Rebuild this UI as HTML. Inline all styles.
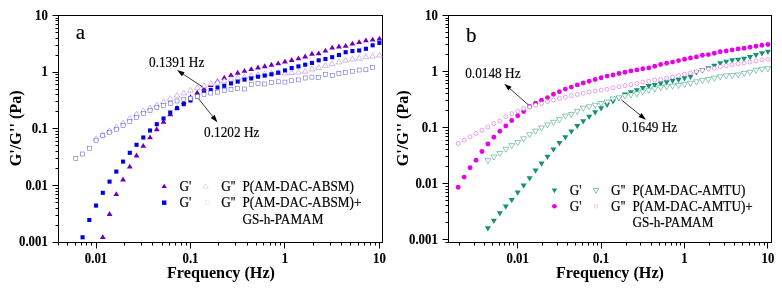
<!DOCTYPE html>
<html><head><meta charset="utf-8"><style>
html,body{margin:0;padding:0;background:#fff;}
body{width:782px;height:289px;overflow:hidden;}
svg{display:block;will-change:transform;}
text{font-family:"Liberation Serif", serif;fill:#000;}
.tk{font-size:12.8px;font-weight:bold;stroke:#000;stroke-width:0.12px;}
.ax{font-size:16.2px;font-weight:bold;}
.lg{font-size:13.2px;stroke:#000;stroke-width:0.18px;}
.an{font-size:13.3px;stroke:#000;stroke-width:0.15px;}
.pl{font-size:21px;stroke:#000;stroke-width:0.15px;}
</style></head><body>
<svg width="782" height="289" viewBox="0 0 782 289">
<rect width="782" height="289" fill="#fff"/>

<rect x="58.50" y="15.50" width="324.00" height="227.00" fill="none" stroke="#000" stroke-width="1.0"/>
<path d="M52.50 242.50H58.50M55.50 225.50H58.50M55.50 215.50H58.50M55.50 208.50H58.50M55.50 202.50H58.50M55.50 198.50H58.50M55.50 194.50H58.50M55.50 191.50H58.50M55.50 188.50H58.50M52.50 185.50H58.50M55.50 168.50H58.50M55.50 158.50H58.50M55.50 151.50H58.50M55.50 145.50H58.50M55.50 141.50H58.50M55.50 137.50H58.50M55.50 134.50H58.50M55.50 131.50H58.50M52.50 128.50H58.50M55.50 111.50H58.50M55.50 101.50H58.50M55.50 94.50H58.50M55.50 89.50H58.50M55.50 84.50H58.50M55.50 80.50H58.50M55.50 77.50H58.50M55.50 74.50H58.50M52.50 72.50H58.50M55.50 55.50H58.50M55.50 45.50H58.50M55.50 38.50H58.50M55.50 32.50H58.50M55.50 28.50H58.50M55.50 24.50H58.50M55.50 20.50H58.50M55.50 18.50H58.50M52.50 15.50H58.50M58.50 242.50V245.50M67.50 242.50V245.50M75.50 242.50V245.50M81.50 242.50V245.50M86.50 242.50V245.50M91.50 242.50V245.50M96.50 242.50V248.50M124.50 242.50V245.50M141.50 242.50V245.50M152.50 242.50V245.50M162.50 242.50V245.50M169.50 242.50V245.50M175.50 242.50V245.50M181.50 242.50V245.50M186.50 242.50V245.50M190.50 242.50V248.50M218.50 242.50V245.50M235.50 242.50V245.50M247.50 242.50V245.50M256.50 242.50V245.50M263.50 242.50V245.50M270.50 242.50V245.50M275.50 242.50V245.50M280.50 242.50V245.50M284.50 242.50V248.50M313.50 242.50V245.50M330.50 242.50V245.50M341.50 242.50V245.50M350.50 242.50V245.50M358.50 242.50V245.50M364.50 242.50V245.50M370.50 242.50V245.50M375.50 242.50V245.50M379.50 242.50V248.50" stroke="#000" stroke-width="1" fill="none"/>
<text transform="translate(47.80,19.60) scale(1,1.09)" text-anchor="end" class="tk">10</text>
<text transform="translate(47.80,76.27) scale(1,1.09)" text-anchor="end" class="tk">1</text>
<text transform="translate(47.80,132.95) scale(1,1.09)" text-anchor="end" class="tk">0.1</text>
<text transform="translate(47.80,189.62) scale(1,1.09)" text-anchor="end" class="tk">0.01</text>
<text transform="translate(47.80,246.30) scale(1,1.09)" text-anchor="end" class="tk">0.001</text>
<text transform="translate(96.05,262.6) scale(1,1.09)" text-anchor="middle" class="tk">0.01</text>
<text transform="translate(190.50,262.6) scale(1,1.09)" text-anchor="middle" class="tk">0.1</text>
<text transform="translate(284.95,262.6) scale(1,1.09)" text-anchor="middle" class="tk">1</text>
<text transform="translate(379.40,262.6) scale(1,1.09)" text-anchor="middle" class="tk">10</text>
<text x="221.00" y="277.6" text-anchor="middle" class="ax">Frequency (Hz)</text>
<text transform="translate(20.70,128.3) rotate(-90)" text-anchor="middle" class="ax">G'/G'' (Pa)</text>
<g>
<polygon points="102.81,234.24 105.76,239.08 99.86,239.08" fill="#7000b4"/>
<polygon points="109.56,211.04 112.51,215.88 106.61,215.88" fill="#7000b4"/>
<polygon points="116.31,191.24 119.26,196.08 113.36,196.08" fill="#7000b4"/>
<polygon points="123.05,176.54 126.00,181.38 120.10,181.38" fill="#7000b4"/>
<polygon points="129.80,163.74 132.75,168.58 126.85,168.58" fill="#7000b4"/>
<polygon points="136.54,152.54 139.49,157.38 133.59,157.38" fill="#7000b4"/>
<polygon points="143.29,142.94 146.24,147.78 140.34,147.78" fill="#7000b4"/>
<polygon points="150.04,134.44 152.99,139.28 147.09,139.28" fill="#7000b4"/>
<polygon points="156.78,126.34 159.73,131.18 153.83,131.18" fill="#7000b4"/>
<polygon points="163.53,118.94 166.48,123.78 160.58,123.78" fill="#7000b4"/>
<polygon points="170.27,111.34 173.22,116.18 167.32,116.18" fill="#7000b4"/>
<polygon points="177.02,104.94 179.97,109.78 174.07,109.78" fill="#7000b4"/>
<polygon points="183.77,99.34 186.72,104.18 180.82,104.18" fill="#7000b4"/>
<polygon points="190.51,94.34 193.46,99.18 187.56,99.18" fill="#7000b4"/>
<polygon points="197.26,89.64 200.21,94.48 194.31,94.48" fill="#7000b4"/>
<polygon points="204.00,85.74 206.95,90.58 201.05,90.58" fill="#7000b4"/>
<polygon points="210.75,82.14 213.70,86.98 207.80,86.98" fill="#7000b4"/>
<polygon points="217.50,78.24 220.45,83.08 214.55,83.08" fill="#7000b4"/>
<polygon points="224.24,74.84 227.19,79.68 221.29,79.68" fill="#7000b4"/>
<polygon points="230.99,72.14 233.94,76.98 228.04,76.98" fill="#7000b4"/>
<polygon points="237.73,69.84 240.68,74.68 234.78,74.68" fill="#7000b4"/>
<polygon points="244.48,67.94 247.43,72.78 241.53,72.78" fill="#7000b4"/>
<polygon points="251.23,66.14 254.18,70.98 248.28,70.98" fill="#7000b4"/>
<polygon points="257.97,64.54 260.92,69.38 255.02,69.38" fill="#7000b4"/>
<polygon points="264.72,63.34 267.67,68.18 261.77,68.18" fill="#7000b4"/>
<polygon points="271.46,61.84 274.41,66.68 268.51,66.68" fill="#7000b4"/>
<polygon points="278.21,60.44 281.16,65.28 275.26,65.28" fill="#7000b4"/>
<polygon points="284.96,58.54 287.91,63.38 282.01,63.38" fill="#7000b4"/>
<polygon points="291.70,57.04 294.65,61.88 288.75,61.88" fill="#7000b4"/>
<polygon points="298.45,55.44 301.40,60.28 295.50,60.28" fill="#7000b4"/>
<polygon points="305.19,53.54 308.14,58.38 302.24,58.38" fill="#7000b4"/>
<polygon points="311.94,50.84 314.89,55.68 308.99,55.68" fill="#7000b4"/>
<polygon points="318.69,50.44 321.64,55.28 315.74,55.28" fill="#7000b4"/>
<polygon points="325.43,47.74 328.38,52.58 322.48,52.58" fill="#7000b4"/>
<polygon points="332.18,44.74 335.13,49.58 329.23,49.58" fill="#7000b4"/>
<polygon points="338.92,43.54 341.87,48.38 335.97,48.38" fill="#7000b4"/>
<polygon points="345.67,42.94 348.62,47.78 342.72,47.78" fill="#7000b4"/>
<polygon points="352.42,40.74 355.37,45.58 349.47,45.58" fill="#7000b4"/>
<polygon points="359.16,39.24 362.11,44.08 356.21,44.08" fill="#7000b4"/>
<polygon points="365.91,37.44 368.86,42.28 362.96,42.28" fill="#7000b4"/>
<polygon points="372.65,36.64 375.60,41.48 369.70,41.48" fill="#7000b4"/>
<polygon points="379.40,35.64 382.35,40.48 376.45,40.48" fill="#7000b4"/>
<polygon points="96.07,135.84 99.02,140.68 93.12,140.68" fill="#fff" stroke="#b48ce6" stroke-width="0.6"/>
<polygon points="102.81,131.84 105.76,136.68 99.86,136.68" fill="#fff" stroke="#b48ce6" stroke-width="0.6"/>
<polygon points="109.56,127.84 112.51,132.68 106.61,132.68" fill="#fff" stroke="#b48ce6" stroke-width="0.6"/>
<polygon points="116.31,124.34 119.26,129.18 113.36,129.18" fill="#fff" stroke="#b48ce6" stroke-width="0.6"/>
<polygon points="123.05,120.04 126.00,124.88 120.10,124.88" fill="#fff" stroke="#b48ce6" stroke-width="0.6"/>
<polygon points="129.80,115.44 132.75,120.28 126.85,120.28" fill="#fff" stroke="#b48ce6" stroke-width="0.6"/>
<polygon points="136.54,111.44 139.49,116.28 133.59,116.28" fill="#fff" stroke="#b48ce6" stroke-width="0.6"/>
<polygon points="143.29,107.84 146.24,112.68 140.34,112.68" fill="#fff" stroke="#b48ce6" stroke-width="0.6"/>
<polygon points="150.04,105.04 152.99,109.88 147.09,109.88" fill="#fff" stroke="#b48ce6" stroke-width="0.6"/>
<polygon points="156.78,102.14 159.73,106.98 153.83,106.98" fill="#fff" stroke="#b48ce6" stroke-width="0.6"/>
<polygon points="163.53,98.64 166.48,103.48 160.58,103.48" fill="#fff" stroke="#b48ce6" stroke-width="0.6"/>
<polygon points="170.27,95.64 173.22,100.48 167.32,100.48" fill="#fff" stroke="#b48ce6" stroke-width="0.6"/>
<polygon points="177.02,92.44 179.97,97.28 174.07,97.28" fill="#fff" stroke="#b48ce6" stroke-width="0.6"/>
<polygon points="183.77,90.14 186.72,94.98 180.82,94.98" fill="#fff" stroke="#b48ce6" stroke-width="0.6"/>
<polygon points="190.51,87.34 193.46,92.18 187.56,92.18" fill="#fff" stroke="#b48ce6" stroke-width="0.6"/>
<polygon points="197.26,84.74 200.21,89.58 194.31,89.58" fill="#fff" stroke="#b48ce6" stroke-width="0.6"/>
<polygon points="204.00,82.94 206.95,87.78 201.05,87.78" fill="#fff" stroke="#b48ce6" stroke-width="0.6"/>
<polygon points="210.75,80.64 213.70,85.48 207.80,85.48" fill="#fff" stroke="#b48ce6" stroke-width="0.6"/>
<polygon points="217.50,79.24 220.45,84.08 214.55,84.08" fill="#fff" stroke="#b48ce6" stroke-width="0.6"/>
<polygon points="224.24,78.04 227.19,82.88 221.29,82.88" fill="#fff" stroke="#b48ce6" stroke-width="0.6"/>
<polygon points="230.99,76.34 233.94,81.18 228.04,81.18" fill="#fff" stroke="#b48ce6" stroke-width="0.6"/>
<polygon points="237.73,75.14 240.68,79.98 234.78,79.98" fill="#fff" stroke="#b48ce6" stroke-width="0.6"/>
<polygon points="244.48,73.94 247.43,78.78 241.53,78.78" fill="#fff" stroke="#b48ce6" stroke-width="0.6"/>
<polygon points="251.23,72.84 254.18,77.68 248.28,77.68" fill="#fff" stroke="#b48ce6" stroke-width="0.6"/>
<polygon points="257.97,71.84 260.92,76.68 255.02,76.68" fill="#fff" stroke="#b48ce6" stroke-width="0.6"/>
<polygon points="264.72,70.94 267.67,75.78 261.77,75.78" fill="#fff" stroke="#b48ce6" stroke-width="0.6"/>
<polygon points="271.46,70.14 274.41,74.98 268.51,74.98" fill="#fff" stroke="#b48ce6" stroke-width="0.6"/>
<polygon points="278.21,69.54 281.16,74.38 275.26,74.38" fill="#fff" stroke="#b48ce6" stroke-width="0.6"/>
<polygon points="284.96,70.14 287.91,74.98 282.01,74.98" fill="#fff" stroke="#b48ce6" stroke-width="0.6"/>
<polygon points="291.70,69.64 294.65,74.48 288.75,74.48" fill="#fff" stroke="#b48ce6" stroke-width="0.6"/>
<polygon points="298.45,69.14 301.40,73.98 295.50,73.98" fill="#fff" stroke="#b48ce6" stroke-width="0.6"/>
<polygon points="305.19,68.24 308.14,73.08 302.24,73.08" fill="#fff" stroke="#b48ce6" stroke-width="0.6"/>
<polygon points="311.94,66.14 314.89,70.98 308.99,70.98" fill="#fff" stroke="#b48ce6" stroke-width="0.6"/>
<polygon points="318.69,64.74 321.64,69.58 315.74,69.58" fill="#fff" stroke="#b48ce6" stroke-width="0.6"/>
<polygon points="325.43,62.44 328.38,67.28 322.48,67.28" fill="#fff" stroke="#b48ce6" stroke-width="0.6"/>
<polygon points="332.18,60.84 335.13,65.68 329.23,65.68" fill="#fff" stroke="#b48ce6" stroke-width="0.6"/>
<polygon points="338.92,59.14 341.87,63.98 335.97,63.98" fill="#fff" stroke="#b48ce6" stroke-width="0.6"/>
<polygon points="345.67,57.34 348.62,62.18 342.72,62.18" fill="#fff" stroke="#b48ce6" stroke-width="0.6"/>
<polygon points="352.42,56.14 355.37,60.98 349.47,60.98" fill="#fff" stroke="#b48ce6" stroke-width="0.6"/>
<polygon points="359.16,55.34 362.11,60.18 356.21,60.18" fill="#fff" stroke="#b48ce6" stroke-width="0.6"/>
<polygon points="365.91,53.84 368.86,58.68 362.96,58.68" fill="#fff" stroke="#b48ce6" stroke-width="0.6"/>
<polygon points="372.65,53.24 375.60,58.08 369.70,58.08" fill="#fff" stroke="#b48ce6" stroke-width="0.6"/>
<polygon points="379.40,52.24 382.35,57.08 376.45,57.08" fill="#fff" stroke="#b48ce6" stroke-width="0.6"/>
<rect x="80.53" y="235.25" width="4.10" height="4.10" fill="#0000e6"/>
<rect x="87.27" y="217.95" width="4.10" height="4.10" fill="#0000e6"/>
<rect x="94.02" y="203.55" width="4.10" height="4.10" fill="#0000e6"/>
<rect x="100.76" y="190.75" width="4.10" height="4.10" fill="#0000e6"/>
<rect x="107.51" y="179.55" width="4.10" height="4.10" fill="#0000e6"/>
<rect x="114.26" y="169.55" width="4.10" height="4.10" fill="#0000e6"/>
<rect x="121.00" y="159.55" width="4.10" height="4.10" fill="#0000e6"/>
<rect x="127.75" y="150.75" width="4.10" height="4.10" fill="#0000e6"/>
<rect x="134.49" y="142.75" width="4.10" height="4.10" fill="#0000e6"/>
<rect x="141.24" y="135.45" width="4.10" height="4.10" fill="#0000e6"/>
<rect x="147.99" y="128.45" width="4.10" height="4.10" fill="#0000e6"/>
<rect x="154.73" y="122.15" width="4.10" height="4.10" fill="#0000e6"/>
<rect x="161.48" y="116.45" width="4.10" height="4.10" fill="#0000e6"/>
<rect x="168.22" y="110.45" width="4.10" height="4.10" fill="#0000e6"/>
<rect x="174.97" y="106.15" width="4.10" height="4.10" fill="#0000e6"/>
<rect x="181.72" y="102.15" width="4.10" height="4.10" fill="#0000e6"/>
<rect x="188.46" y="98.45" width="4.10" height="4.10" fill="#0000e6"/>
<rect x="195.21" y="94.45" width="4.10" height="4.10" fill="#0000e6"/>
<rect x="201.95" y="90.45" width="4.10" height="4.10" fill="#0000e6"/>
<rect x="208.70" y="87.85" width="4.10" height="4.10" fill="#0000e6"/>
<rect x="215.45" y="85.45" width="4.10" height="4.10" fill="#0000e6"/>
<rect x="222.19" y="83.75" width="4.10" height="4.10" fill="#0000e6"/>
<rect x="228.94" y="81.35" width="4.10" height="4.10" fill="#0000e6"/>
<rect x="235.68" y="79.55" width="4.10" height="4.10" fill="#0000e6"/>
<rect x="242.43" y="77.55" width="4.10" height="4.10" fill="#0000e6"/>
<rect x="249.18" y="76.35" width="4.10" height="4.10" fill="#0000e6"/>
<rect x="255.92" y="74.65" width="4.10" height="4.10" fill="#0000e6"/>
<rect x="262.67" y="73.55" width="4.10" height="4.10" fill="#0000e6"/>
<rect x="269.41" y="72.25" width="4.10" height="4.10" fill="#0000e6"/>
<rect x="276.16" y="70.65" width="4.10" height="4.10" fill="#0000e6"/>
<rect x="282.91" y="68.35" width="4.10" height="4.10" fill="#0000e6"/>
<rect x="289.65" y="65.95" width="4.10" height="4.10" fill="#0000e6"/>
<rect x="296.40" y="64.35" width="4.10" height="4.10" fill="#0000e6"/>
<rect x="303.14" y="62.65" width="4.10" height="4.10" fill="#0000e6"/>
<rect x="309.89" y="60.85" width="4.10" height="4.10" fill="#0000e6"/>
<rect x="316.64" y="58.25" width="4.10" height="4.10" fill="#0000e6"/>
<rect x="323.38" y="56.95" width="4.10" height="4.10" fill="#0000e6"/>
<rect x="330.13" y="55.15" width="4.10" height="4.10" fill="#0000e6"/>
<rect x="336.87" y="52.95" width="4.10" height="4.10" fill="#0000e6"/>
<rect x="343.62" y="50.15" width="4.10" height="4.10" fill="#0000e6"/>
<rect x="350.37" y="49.05" width="4.10" height="4.10" fill="#0000e6"/>
<rect x="357.11" y="48.45" width="4.10" height="4.10" fill="#0000e6"/>
<rect x="363.86" y="46.75" width="4.10" height="4.10" fill="#0000e6"/>
<rect x="370.60" y="43.25" width="4.10" height="4.10" fill="#0000e6"/>
<rect x="377.35" y="40.85" width="4.10" height="4.10" fill="#0000e6"/>
<rect x="73.83" y="156.40" width="4.00" height="4.00" fill="#fff" stroke="#5050d0" stroke-width="0.5"/>
<rect x="80.58" y="152.00" width="4.00" height="4.00" fill="#fff" stroke="#5050d0" stroke-width="0.5"/>
<rect x="87.32" y="146.20" width="4.00" height="4.00" fill="#fff" stroke="#5050d0" stroke-width="0.5"/>
<rect x="94.07" y="138.20" width="4.00" height="4.00" fill="#fff" stroke="#5050d0" stroke-width="0.5"/>
<rect x="100.81" y="133.50" width="4.00" height="4.00" fill="#fff" stroke="#5050d0" stroke-width="0.5"/>
<rect x="107.56" y="130.30" width="4.00" height="4.00" fill="#fff" stroke="#5050d0" stroke-width="0.5"/>
<rect x="114.31" y="127.50" width="4.00" height="4.00" fill="#fff" stroke="#5050d0" stroke-width="0.5"/>
<rect x="121.05" y="123.40" width="4.00" height="4.00" fill="#fff" stroke="#5050d0" stroke-width="0.5"/>
<rect x="127.80" y="119.50" width="4.00" height="4.00" fill="#fff" stroke="#5050d0" stroke-width="0.5"/>
<rect x="134.54" y="115.30" width="4.00" height="4.00" fill="#fff" stroke="#5050d0" stroke-width="0.5"/>
<rect x="141.29" y="111.70" width="4.00" height="4.00" fill="#fff" stroke="#5050d0" stroke-width="0.5"/>
<rect x="148.04" y="108.30" width="4.00" height="4.00" fill="#fff" stroke="#5050d0" stroke-width="0.5"/>
<rect x="154.78" y="105.30" width="4.00" height="4.00" fill="#fff" stroke="#5050d0" stroke-width="0.5"/>
<rect x="161.53" y="103.30" width="4.00" height="4.00" fill="#fff" stroke="#5050d0" stroke-width="0.5"/>
<rect x="168.27" y="101.30" width="4.00" height="4.00" fill="#fff" stroke="#5050d0" stroke-width="0.5"/>
<rect x="175.02" y="99.00" width="4.00" height="4.00" fill="#fff" stroke="#5050d0" stroke-width="0.5"/>
<rect x="181.77" y="97.20" width="4.00" height="4.00" fill="#fff" stroke="#5050d0" stroke-width="0.5"/>
<rect x="188.51" y="96.30" width="4.00" height="4.00" fill="#fff" stroke="#5050d0" stroke-width="0.5"/>
<rect x="195.26" y="94.50" width="4.00" height="4.00" fill="#fff" stroke="#5050d0" stroke-width="0.5"/>
<rect x="202.00" y="92.70" width="4.00" height="4.00" fill="#fff" stroke="#5050d0" stroke-width="0.5"/>
<rect x="208.75" y="91.00" width="4.00" height="4.00" fill="#fff" stroke="#5050d0" stroke-width="0.5"/>
<rect x="215.50" y="90.10" width="4.00" height="4.00" fill="#fff" stroke="#5050d0" stroke-width="0.5"/>
<rect x="222.24" y="88.40" width="4.00" height="4.00" fill="#fff" stroke="#5050d0" stroke-width="0.5"/>
<rect x="228.99" y="87.40" width="4.00" height="4.00" fill="#fff" stroke="#5050d0" stroke-width="0.5"/>
<rect x="235.73" y="86.50" width="4.00" height="4.00" fill="#fff" stroke="#5050d0" stroke-width="0.5"/>
<rect x="242.48" y="87.00" width="4.00" height="4.00" fill="#fff" stroke="#5050d0" stroke-width="0.5"/>
<rect x="249.23" y="82.20" width="4.00" height="4.00" fill="#fff" stroke="#5050d0" stroke-width="0.5"/>
<rect x="255.97" y="81.50" width="4.00" height="4.00" fill="#fff" stroke="#5050d0" stroke-width="0.5"/>
<rect x="262.72" y="82.00" width="4.00" height="4.00" fill="#fff" stroke="#5050d0" stroke-width="0.5"/>
<rect x="269.46" y="80.70" width="4.00" height="4.00" fill="#fff" stroke="#5050d0" stroke-width="0.5"/>
<rect x="276.21" y="79.80" width="4.00" height="4.00" fill="#fff" stroke="#5050d0" stroke-width="0.5"/>
<rect x="282.96" y="80.10" width="4.00" height="4.00" fill="#fff" stroke="#5050d0" stroke-width="0.5"/>
<rect x="289.70" y="78.80" width="4.00" height="4.00" fill="#fff" stroke="#5050d0" stroke-width="0.5"/>
<rect x="296.45" y="77.90" width="4.00" height="4.00" fill="#fff" stroke="#5050d0" stroke-width="0.5"/>
<rect x="303.19" y="76.00" width="4.00" height="4.00" fill="#fff" stroke="#5050d0" stroke-width="0.5"/>
<rect x="309.94" y="75.10" width="4.00" height="4.00" fill="#fff" stroke="#5050d0" stroke-width="0.5"/>
<rect x="316.69" y="75.30" width="4.00" height="4.00" fill="#fff" stroke="#5050d0" stroke-width="0.5"/>
<rect x="323.43" y="72.70" width="4.00" height="4.00" fill="#fff" stroke="#5050d0" stroke-width="0.5"/>
<rect x="330.18" y="73.70" width="4.00" height="4.00" fill="#fff" stroke="#5050d0" stroke-width="0.5"/>
<rect x="336.92" y="71.30" width="4.00" height="4.00" fill="#fff" stroke="#5050d0" stroke-width="0.5"/>
<rect x="343.67" y="70.40" width="4.00" height="4.00" fill="#fff" stroke="#5050d0" stroke-width="0.5"/>
<rect x="350.42" y="69.20" width="4.00" height="4.00" fill="#fff" stroke="#5050d0" stroke-width="0.5"/>
<rect x="357.16" y="68.00" width="4.00" height="4.00" fill="#fff" stroke="#5050d0" stroke-width="0.5"/>
<rect x="363.91" y="67.80" width="4.00" height="4.00" fill="#fff" stroke="#5050d0" stroke-width="0.5"/>
<rect x="370.65" y="65.60" width="4.00" height="4.00" fill="#fff" stroke="#5050d0" stroke-width="0.5"/>
</g>
<text transform="translate(149.00,67.40) scale(1,1.08)" class="an">0.1391 Hz</text>
<line x1="202.70" y1="87.00" x2="182.43" y2="73.67" stroke="#222" stroke-width="0.9"/><polygon points="177.00,70.10 184.64,72.13 181.89,76.31" fill="#000"/>
<text transform="translate(204.10,137.40) scale(1,1.08)" class="an">0.1202 Hz</text>
<line x1="198.70" y1="98.90" x2="213.34" y2="117.22" stroke="#222" stroke-width="0.9"/><polygon points="217.40,122.30 210.76,118.00 214.67,114.88" fill="#000"/>
<text transform="translate(75.80,38.90) scale(1,1.0)" class="pl">a</text>
<polygon points="164.20,183.66 166.90,188.09 161.50,188.09" fill="#7000b4"/>
<text transform="translate(179.40,190.60) scale(1,1.09)" class="lg">G'</text>
<polygon points="205.60,183.95 208.20,188.22 203.00,188.22" fill="none" stroke="#c8b4ec" stroke-width="0.5"/>
<text transform="translate(221.20,190.60) scale(1,1.09)" class="lg">G''</text>
<text transform="translate(242.50,190.60) scale(1,1.09)" class="lg">P(AM-DAC-ABSM)</text>
<rect x="162.00" y="200.50" width="4.40" height="4.40" fill="#0000e6"/>
<text transform="translate(179.40,207.10) scale(1,1.09)" class="lg">G'</text>
<rect x="205.60" y="200.90" width="3.60" height="3.60" fill="none" stroke="#d4d4f4" stroke-width="0.45"/>
<text transform="translate(221.20,207.10) scale(1,1.09)" class="lg">G''</text>
<text transform="translate(242.50,207.10) scale(1,1.09)" class="lg">P(AM-DAC-ABSM)+</text>
<text transform="translate(242.50,223.70) scale(1,1.09)" class="lg">GS-h-PAMAM</text>
<rect x="448.50" y="15.50" width="323.00" height="227.00" fill="none" stroke="#000" stroke-width="1.0"/>
<path d="M445.50 242.50H448.50M442.50 239.50H448.50M445.50 222.50H448.50M445.50 212.50H448.50M445.50 205.50H448.50M445.50 200.50H448.50M445.50 196.50H448.50M445.50 192.50H448.50M445.50 189.50H448.50M445.50 186.50H448.50M442.50 183.50H448.50M445.50 166.50H448.50M445.50 156.50H448.50M445.50 149.50H448.50M445.50 144.50H448.50M445.50 140.50H448.50M445.50 136.50H448.50M445.50 133.50H448.50M445.50 130.50H448.50M442.50 127.50H448.50M445.50 110.50H448.50M445.50 100.50H448.50M445.50 93.50H448.50M445.50 88.50H448.50M445.50 83.50H448.50M445.50 80.50H448.50M445.50 76.50H448.50M445.50 74.50H448.50M442.50 71.50H448.50M445.50 54.50H448.50M445.50 44.50H448.50M445.50 37.50H448.50M445.50 32.50H448.50M445.50 27.50H448.50M445.50 24.50H448.50M445.50 20.50H448.50M445.50 18.50H448.50M442.50 15.50H448.50M459.50 242.50V245.50M474.50 242.50V245.50M484.50 242.50V245.50M492.50 242.50V245.50M499.50 242.50V245.50M504.50 242.50V245.50M509.50 242.50V245.50M513.50 242.50V245.50M517.50 242.50V248.50M542.50 242.50V245.50M557.50 242.50V245.50M567.50 242.50V245.50M575.50 242.50V245.50M582.50 242.50V245.50M588.50 242.50V245.50M593.50 242.50V245.50M597.50 242.50V245.50M601.50 242.50V248.50M626.50 242.50V245.50M640.50 242.50V245.50M651.50 242.50V245.50M659.50 242.50V245.50M665.50 242.50V245.50M671.50 242.50V245.50M676.50 242.50V245.50M680.50 242.50V245.50M684.50 242.50V248.50M709.50 242.50V245.50M724.50 242.50V245.50M734.50 242.50V245.50M742.50 242.50V245.50M749.50 242.50V245.50M754.50 242.50V245.50M759.50 242.50V245.50M764.50 242.50V245.50M767.50 242.50V248.50" stroke="#000" stroke-width="1" fill="none"/>
<text transform="translate(437.80,19.60) scale(1,1.09)" text-anchor="end" class="tk">10</text>
<text transform="translate(437.80,75.65) scale(1,1.09)" text-anchor="end" class="tk">1</text>
<text transform="translate(437.80,131.70) scale(1,1.09)" text-anchor="end" class="tk">0.1</text>
<text transform="translate(437.80,187.75) scale(1,1.09)" text-anchor="end" class="tk">0.01</text>
<text transform="translate(437.80,243.80) scale(1,1.09)" text-anchor="end" class="tk">0.001</text>
<text transform="translate(517.70,262.6) scale(1,1.09)" text-anchor="middle" class="tk">0.01</text>
<text transform="translate(601.10,262.6) scale(1,1.09)" text-anchor="middle" class="tk">0.1</text>
<text transform="translate(684.50,262.6) scale(1,1.09)" text-anchor="middle" class="tk">1</text>
<text transform="translate(767.90,262.6) scale(1,1.09)" text-anchor="middle" class="tk">10</text>
<text x="610.00" y="277.6" text-anchor="middle" class="ax">Frequency (Hz)</text>
<text transform="translate(408.30,128.3) rotate(-90)" text-anchor="middle" class="ax">G'/G'' (Pa)</text>
<g>
<polygon points="487.92,231.39 490.97,226.14 484.87,226.14" fill="#129474"/>
<polygon points="493.88,223.99 496.93,218.74 490.83,218.74" fill="#129474"/>
<polygon points="499.83,216.59 502.88,211.34 496.78,211.34" fill="#129474"/>
<polygon points="505.79,209.79 508.84,204.54 502.74,204.54" fill="#129474"/>
<polygon points="511.75,203.19 514.80,197.94 508.70,197.94" fill="#129474"/>
<polygon points="517.71,195.79 520.76,190.54 514.66,190.54" fill="#129474"/>
<polygon points="523.66,188.79 526.71,183.54 520.61,183.54" fill="#129474"/>
<polygon points="529.62,181.39 532.67,176.14 526.57,176.14" fill="#129474"/>
<polygon points="535.58,173.79 538.63,168.54 532.53,168.54" fill="#129474"/>
<polygon points="541.53,166.69 544.58,161.44 538.48,161.44" fill="#129474"/>
<polygon points="547.49,159.89 550.54,154.64 544.44,154.64" fill="#129474"/>
<polygon points="553.45,152.79 556.50,147.54 550.40,147.54" fill="#129474"/>
<polygon points="559.40,146.29 562.45,141.04 556.36,141.04" fill="#129474"/>
<polygon points="565.36,140.49 568.41,135.24 562.31,135.24" fill="#129474"/>
<polygon points="571.32,134.69 574.37,129.44 568.27,129.44" fill="#129474"/>
<polygon points="577.28,129.19 580.33,123.94 574.23,123.94" fill="#129474"/>
<polygon points="583.23,124.39 586.28,119.14 580.18,119.14" fill="#129474"/>
<polygon points="589.19,120.09 592.24,114.84 586.14,114.84" fill="#129474"/>
<polygon points="595.15,115.49 598.20,110.24 592.10,110.24" fill="#129474"/>
<polygon points="601.10,111.59 604.15,106.34 598.05,106.34" fill="#129474"/>
<polygon points="607.06,108.09 610.11,102.84 604.01,102.84" fill="#129474"/>
<polygon points="613.02,104.59 616.07,99.34 609.97,99.34" fill="#129474"/>
<polygon points="618.98,101.19 622.02,95.94 615.93,95.94" fill="#129474"/>
<polygon points="624.93,97.69 627.98,92.44 621.88,92.44" fill="#129474"/>
<polygon points="630.89,95.49 633.94,90.24 627.84,90.24" fill="#129474"/>
<polygon points="636.85,93.49 639.90,88.24 633.80,88.24" fill="#129474"/>
<polygon points="642.80,91.29 645.85,86.04 639.75,86.04" fill="#129474"/>
<polygon points="648.76,89.29 651.81,84.04 645.71,84.04" fill="#129474"/>
<polygon points="654.72,88.19 657.77,82.94 651.67,82.94" fill="#129474"/>
<polygon points="660.67,86.69 663.72,81.44 657.62,81.44" fill="#129474"/>
<polygon points="666.63,85.59 669.68,80.34 663.58,80.34" fill="#129474"/>
<polygon points="672.59,84.09 675.64,78.84 669.54,78.84" fill="#129474"/>
<polygon points="678.54,82.99 681.59,77.74 675.50,77.74" fill="#129474"/>
<polygon points="684.50,81.39 687.55,76.14 681.45,76.14" fill="#129474"/>
<polygon points="690.46,79.99 693.51,74.74 687.41,74.74" fill="#129474"/>
<polygon points="696.42,75.39 699.47,70.14 693.37,70.14" fill="#129474"/>
<polygon points="702.37,73.59 705.42,68.34 699.32,68.34" fill="#129474"/>
<polygon points="708.33,71.49 711.38,66.24 705.28,66.24" fill="#129474"/>
<polygon points="714.29,68.99 717.34,63.74 711.24,63.74" fill="#129474"/>
<polygon points="720.24,66.49 723.29,61.24 717.19,61.24" fill="#129474"/>
<polygon points="726.20,64.99 729.25,59.74 723.15,59.74" fill="#129474"/>
<polygon points="732.16,63.39 735.21,58.14 729.11,58.14" fill="#129474"/>
<polygon points="738.12,63.09 741.16,57.84 735.07,57.84" fill="#129474"/>
<polygon points="744.07,61.89 747.12,56.64 741.02,56.64" fill="#129474"/>
<polygon points="750.03,60.29 753.08,55.04 746.98,55.04" fill="#129474"/>
<polygon points="755.99,58.29 759.04,53.04 752.94,53.04" fill="#129474"/>
<polygon points="761.94,56.59 764.99,51.34 758.89,51.34" fill="#129474"/>
<polygon points="767.90,54.99 770.95,49.74 764.85,49.74" fill="#129474"/>
<polygon points="487.92,163.69 490.87,158.62 484.97,158.62" fill="#fff" stroke="#2f9c7e" stroke-width="0.55"/>
<polygon points="493.88,160.09 496.83,155.02 490.93,155.02" fill="#fff" stroke="#2f9c7e" stroke-width="0.55"/>
<polygon points="499.83,156.49 502.78,151.42 496.88,151.42" fill="#fff" stroke="#2f9c7e" stroke-width="0.55"/>
<polygon points="505.79,152.29 508.74,147.22 502.84,147.22" fill="#fff" stroke="#2f9c7e" stroke-width="0.55"/>
<polygon points="511.75,148.69 514.70,143.62 508.80,143.62" fill="#fff" stroke="#2f9c7e" stroke-width="0.55"/>
<polygon points="517.71,145.59 520.66,140.52 514.76,140.52" fill="#fff" stroke="#2f9c7e" stroke-width="0.55"/>
<polygon points="523.66,141.89 526.61,136.82 520.71,136.82" fill="#fff" stroke="#2f9c7e" stroke-width="0.55"/>
<polygon points="529.62,137.79 532.57,132.72 526.67,132.72" fill="#fff" stroke="#2f9c7e" stroke-width="0.55"/>
<polygon points="535.58,134.19 538.53,129.12 532.63,129.12" fill="#fff" stroke="#2f9c7e" stroke-width="0.55"/>
<polygon points="541.53,131.09 544.48,126.02 538.58,126.02" fill="#fff" stroke="#2f9c7e" stroke-width="0.55"/>
<polygon points="547.49,127.99 550.44,122.92 544.54,122.92" fill="#fff" stroke="#2f9c7e" stroke-width="0.55"/>
<polygon points="553.45,125.39 556.40,120.32 550.50,120.32" fill="#fff" stroke="#2f9c7e" stroke-width="0.55"/>
<polygon points="559.40,122.79 562.36,117.72 556.45,117.72" fill="#fff" stroke="#2f9c7e" stroke-width="0.55"/>
<polygon points="565.36,119.19 568.31,114.12 562.41,114.12" fill="#fff" stroke="#2f9c7e" stroke-width="0.55"/>
<polygon points="571.32,117.59 574.27,112.52 568.37,112.52" fill="#fff" stroke="#2f9c7e" stroke-width="0.55"/>
<polygon points="577.28,114.49 580.23,109.42 574.33,109.42" fill="#fff" stroke="#2f9c7e" stroke-width="0.55"/>
<polygon points="583.23,111.29 586.18,106.22 580.28,106.22" fill="#fff" stroke="#2f9c7e" stroke-width="0.55"/>
<polygon points="589.19,109.79 592.14,104.72 586.24,104.72" fill="#fff" stroke="#2f9c7e" stroke-width="0.55"/>
<polygon points="595.15,108.29 598.10,103.22 592.20,103.22" fill="#fff" stroke="#2f9c7e" stroke-width="0.55"/>
<polygon points="601.10,106.59 604.05,101.52 598.15,101.52" fill="#fff" stroke="#2f9c7e" stroke-width="0.55"/>
<polygon points="607.06,105.09 610.01,100.02 604.11,100.02" fill="#fff" stroke="#2f9c7e" stroke-width="0.55"/>
<polygon points="613.02,101.99 615.97,96.92 610.07,96.92" fill="#fff" stroke="#2f9c7e" stroke-width="0.55"/>
<polygon points="618.98,100.89 621.93,95.82 616.02,95.82" fill="#fff" stroke="#2f9c7e" stroke-width="0.55"/>
<polygon points="624.93,99.09 627.88,94.02 621.98,94.02" fill="#fff" stroke="#2f9c7e" stroke-width="0.55"/>
<polygon points="630.89,97.99 633.84,92.92 627.94,92.92" fill="#fff" stroke="#2f9c7e" stroke-width="0.55"/>
<polygon points="636.85,96.89 639.80,91.82 633.90,91.82" fill="#fff" stroke="#2f9c7e" stroke-width="0.55"/>
<polygon points="642.80,95.09 645.75,90.02 639.85,90.02" fill="#fff" stroke="#2f9c7e" stroke-width="0.55"/>
<polygon points="648.76,93.39 651.71,88.32 645.81,88.32" fill="#fff" stroke="#2f9c7e" stroke-width="0.55"/>
<polygon points="654.72,91.99 657.67,86.92 651.77,86.92" fill="#fff" stroke="#2f9c7e" stroke-width="0.55"/>
<polygon points="660.67,90.59 663.62,85.52 657.72,85.52" fill="#fff" stroke="#2f9c7e" stroke-width="0.55"/>
<polygon points="666.63,89.79 669.58,84.72 663.68,84.72" fill="#fff" stroke="#2f9c7e" stroke-width="0.55"/>
<polygon points="672.59,89.19 675.54,84.12 669.64,84.12" fill="#fff" stroke="#2f9c7e" stroke-width="0.55"/>
<polygon points="678.54,88.49 681.50,83.42 675.59,83.42" fill="#fff" stroke="#2f9c7e" stroke-width="0.55"/>
<polygon points="684.50,87.39 687.45,82.32 681.55,82.32" fill="#fff" stroke="#2f9c7e" stroke-width="0.55"/>
<polygon points="690.46,86.29 693.41,81.22 687.51,81.22" fill="#fff" stroke="#2f9c7e" stroke-width="0.55"/>
<polygon points="696.42,84.89 699.37,79.82 693.47,79.82" fill="#fff" stroke="#2f9c7e" stroke-width="0.55"/>
<polygon points="702.37,83.69 705.32,78.62 699.42,78.62" fill="#fff" stroke="#2f9c7e" stroke-width="0.55"/>
<polygon points="708.33,82.59 711.28,77.52 705.38,77.52" fill="#fff" stroke="#2f9c7e" stroke-width="0.55"/>
<polygon points="714.29,81.19 717.24,76.12 711.34,76.12" fill="#fff" stroke="#2f9c7e" stroke-width="0.55"/>
<polygon points="720.24,79.89 723.19,74.82 717.29,74.82" fill="#fff" stroke="#2f9c7e" stroke-width="0.55"/>
<polygon points="726.20,78.89 729.15,73.82 723.25,73.82" fill="#fff" stroke="#2f9c7e" stroke-width="0.55"/>
<polygon points="732.16,78.59 735.11,73.52 729.21,73.52" fill="#fff" stroke="#2f9c7e" stroke-width="0.55"/>
<polygon points="738.12,77.99 741.07,72.92 735.16,72.92" fill="#fff" stroke="#2f9c7e" stroke-width="0.55"/>
<polygon points="744.07,76.49 747.02,71.42 741.12,71.42" fill="#fff" stroke="#2f9c7e" stroke-width="0.55"/>
<polygon points="750.03,75.39 752.98,70.32 747.08,70.32" fill="#fff" stroke="#2f9c7e" stroke-width="0.55"/>
<polygon points="755.99,73.39 758.94,68.32 753.04,68.32" fill="#fff" stroke="#2f9c7e" stroke-width="0.55"/>
<polygon points="761.94,72.29 764.89,67.22 758.99,67.22" fill="#fff" stroke="#2f9c7e" stroke-width="0.55"/>
<polygon points="767.90,71.79 770.85,66.72 764.95,66.72" fill="#fff" stroke="#2f9c7e" stroke-width="0.55"/>
<circle cx="458.14" cy="187.20" r="2.45" fill="#e800e8"/>
<circle cx="464.09" cy="177.10" r="2.45" fill="#e800e8"/>
<circle cx="470.05" cy="167.80" r="2.45" fill="#e800e8"/>
<circle cx="476.01" cy="160.30" r="2.45" fill="#e800e8"/>
<circle cx="481.96" cy="151.50" r="2.45" fill="#e800e8"/>
<circle cx="487.92" cy="144.00" r="2.45" fill="#e800e8"/>
<circle cx="493.88" cy="137.30" r="2.45" fill="#e800e8"/>
<circle cx="499.83" cy="131.30" r="2.45" fill="#e800e8"/>
<circle cx="505.79" cy="126.00" r="2.45" fill="#e800e8"/>
<circle cx="511.75" cy="120.50" r="2.45" fill="#e800e8"/>
<circle cx="517.71" cy="115.70" r="2.45" fill="#e800e8"/>
<circle cx="523.66" cy="111.60" r="2.45" fill="#e800e8"/>
<circle cx="529.62" cy="106.50" r="2.45" fill="#e800e8"/>
<circle cx="535.58" cy="103.20" r="2.45" fill="#e800e8"/>
<circle cx="541.53" cy="100.20" r="2.45" fill="#e800e8"/>
<circle cx="547.49" cy="97.60" r="2.45" fill="#e800e8"/>
<circle cx="553.45" cy="94.30" r="2.45" fill="#e800e8"/>
<circle cx="559.40" cy="91.70" r="2.45" fill="#e800e8"/>
<circle cx="565.36" cy="89.10" r="2.45" fill="#e800e8"/>
<circle cx="571.32" cy="87.10" r="2.45" fill="#e800e8"/>
<circle cx="577.28" cy="84.90" r="2.45" fill="#e800e8"/>
<circle cx="583.23" cy="83.00" r="2.45" fill="#e800e8"/>
<circle cx="589.19" cy="81.30" r="2.45" fill="#e800e8"/>
<circle cx="595.15" cy="79.50" r="2.45" fill="#e800e8"/>
<circle cx="601.10" cy="77.80" r="2.45" fill="#e800e8"/>
<circle cx="607.06" cy="76.10" r="2.45" fill="#e800e8"/>
<circle cx="613.02" cy="75.00" r="2.45" fill="#e800e8"/>
<circle cx="618.98" cy="73.50" r="2.45" fill="#e800e8"/>
<circle cx="624.93" cy="72.20" r="2.45" fill="#e800e8"/>
<circle cx="630.89" cy="70.90" r="2.45" fill="#e800e8"/>
<circle cx="636.85" cy="69.90" r="2.45" fill="#e800e8"/>
<circle cx="642.80" cy="68.80" r="2.45" fill="#e800e8"/>
<circle cx="648.76" cy="67.90" r="2.45" fill="#e800e8"/>
<circle cx="654.72" cy="66.30" r="2.45" fill="#e800e8"/>
<circle cx="660.67" cy="64.50" r="2.45" fill="#e800e8"/>
<circle cx="666.63" cy="63.20" r="2.45" fill="#e800e8"/>
<circle cx="672.59" cy="62.10" r="2.45" fill="#e800e8"/>
<circle cx="678.54" cy="60.60" r="2.45" fill="#e800e8"/>
<circle cx="684.50" cy="59.30" r="2.45" fill="#e800e8"/>
<circle cx="690.46" cy="58.00" r="2.45" fill="#e800e8"/>
<circle cx="696.42" cy="56.90" r="2.45" fill="#e800e8"/>
<circle cx="702.37" cy="55.30" r="2.45" fill="#e800e8"/>
<circle cx="708.33" cy="54.60" r="2.45" fill="#e800e8"/>
<circle cx="714.29" cy="53.30" r="2.45" fill="#e800e8"/>
<circle cx="720.24" cy="51.80" r="2.45" fill="#e800e8"/>
<circle cx="726.20" cy="51.00" r="2.45" fill="#e800e8"/>
<circle cx="732.16" cy="49.90" r="2.45" fill="#e800e8"/>
<circle cx="738.12" cy="48.90" r="2.45" fill="#e800e8"/>
<circle cx="744.07" cy="48.20" r="2.45" fill="#e800e8"/>
<circle cx="750.03" cy="47.30" r="2.45" fill="#e800e8"/>
<circle cx="755.99" cy="46.30" r="2.45" fill="#e800e8"/>
<circle cx="761.94" cy="45.20" r="2.45" fill="#e800e8"/>
<circle cx="767.90" cy="44.50" r="2.45" fill="#e800e8"/>
<circle cx="458.14" cy="143.50" r="2.00" fill="#fff" stroke="#d048d0" stroke-width="0.5"/>
<circle cx="464.09" cy="140.20" r="2.00" fill="#fff" stroke="#d048d0" stroke-width="0.5"/>
<circle cx="470.05" cy="136.80" r="2.00" fill="#fff" stroke="#d048d0" stroke-width="0.5"/>
<circle cx="476.01" cy="133.40" r="2.00" fill="#fff" stroke="#d048d0" stroke-width="0.5"/>
<circle cx="481.96" cy="130.30" r="2.00" fill="#fff" stroke="#d048d0" stroke-width="0.5"/>
<circle cx="487.92" cy="127.00" r="2.00" fill="#fff" stroke="#d048d0" stroke-width="0.5"/>
<circle cx="493.88" cy="123.60" r="2.00" fill="#fff" stroke="#d048d0" stroke-width="0.5"/>
<circle cx="499.83" cy="121.00" r="2.00" fill="#fff" stroke="#d048d0" stroke-width="0.5"/>
<circle cx="505.79" cy="116.70" r="2.00" fill="#fff" stroke="#d048d0" stroke-width="0.5"/>
<circle cx="511.75" cy="113.70" r="2.00" fill="#fff" stroke="#d048d0" stroke-width="0.5"/>
<circle cx="517.71" cy="111.30" r="2.00" fill="#fff" stroke="#d048d0" stroke-width="0.5"/>
<circle cx="523.66" cy="108.60" r="2.00" fill="#fff" stroke="#d048d0" stroke-width="0.5"/>
<circle cx="529.62" cy="107.00" r="2.00" fill="#fff" stroke="#d048d0" stroke-width="0.5"/>
<circle cx="535.58" cy="105.00" r="2.00" fill="#fff" stroke="#d048d0" stroke-width="0.5"/>
<circle cx="541.53" cy="103.60" r="2.00" fill="#fff" stroke="#d048d0" stroke-width="0.5"/>
<circle cx="547.49" cy="101.50" r="2.00" fill="#fff" stroke="#d048d0" stroke-width="0.5"/>
<circle cx="553.45" cy="100.00" r="2.00" fill="#fff" stroke="#d048d0" stroke-width="0.5"/>
<circle cx="559.40" cy="98.40" r="2.00" fill="#fff" stroke="#d048d0" stroke-width="0.5"/>
<circle cx="565.36" cy="97.20" r="2.00" fill="#fff" stroke="#d048d0" stroke-width="0.5"/>
<circle cx="571.32" cy="95.60" r="2.00" fill="#fff" stroke="#d048d0" stroke-width="0.5"/>
<circle cx="577.28" cy="94.50" r="2.00" fill="#fff" stroke="#d048d0" stroke-width="0.5"/>
<circle cx="583.23" cy="93.30" r="2.00" fill="#fff" stroke="#d048d0" stroke-width="0.5"/>
<circle cx="589.19" cy="91.90" r="2.00" fill="#fff" stroke="#d048d0" stroke-width="0.5"/>
<circle cx="595.15" cy="90.90" r="2.00" fill="#fff" stroke="#d048d0" stroke-width="0.5"/>
<circle cx="601.10" cy="90.10" r="2.00" fill="#fff" stroke="#d048d0" stroke-width="0.5"/>
<circle cx="607.06" cy="89.30" r="2.00" fill="#fff" stroke="#d048d0" stroke-width="0.5"/>
<circle cx="613.02" cy="87.80" r="2.00" fill="#fff" stroke="#d048d0" stroke-width="0.5"/>
<circle cx="618.98" cy="86.70" r="2.00" fill="#fff" stroke="#d048d0" stroke-width="0.5"/>
<circle cx="624.93" cy="85.70" r="2.00" fill="#fff" stroke="#d048d0" stroke-width="0.5"/>
<circle cx="630.89" cy="84.70" r="2.00" fill="#fff" stroke="#d048d0" stroke-width="0.5"/>
<circle cx="636.85" cy="83.60" r="2.00" fill="#fff" stroke="#d048d0" stroke-width="0.5"/>
<circle cx="642.80" cy="82.10" r="2.00" fill="#fff" stroke="#d048d0" stroke-width="0.5"/>
<circle cx="648.76" cy="81.20" r="2.00" fill="#fff" stroke="#d048d0" stroke-width="0.5"/>
<circle cx="654.72" cy="79.90" r="2.00" fill="#fff" stroke="#d048d0" stroke-width="0.5"/>
<circle cx="660.67" cy="79.40" r="2.00" fill="#fff" stroke="#d048d0" stroke-width="0.5"/>
<circle cx="666.63" cy="78.20" r="2.00" fill="#fff" stroke="#d048d0" stroke-width="0.5"/>
<circle cx="672.59" cy="77.00" r="2.00" fill="#fff" stroke="#d048d0" stroke-width="0.5"/>
<circle cx="678.54" cy="75.60" r="2.00" fill="#fff" stroke="#d048d0" stroke-width="0.5"/>
<circle cx="684.50" cy="74.10" r="2.00" fill="#fff" stroke="#d048d0" stroke-width="0.5"/>
<circle cx="690.46" cy="73.00" r="2.00" fill="#fff" stroke="#d048d0" stroke-width="0.5"/>
<circle cx="696.42" cy="71.60" r="2.00" fill="#fff" stroke="#d048d0" stroke-width="0.5"/>
<circle cx="702.37" cy="70.20" r="2.00" fill="#fff" stroke="#d048d0" stroke-width="0.5"/>
<circle cx="708.33" cy="68.90" r="2.00" fill="#fff" stroke="#d048d0" stroke-width="0.5"/>
<circle cx="714.29" cy="68.20" r="2.00" fill="#fff" stroke="#d048d0" stroke-width="0.5"/>
<circle cx="720.24" cy="66.70" r="2.00" fill="#fff" stroke="#d048d0" stroke-width="0.5"/>
<circle cx="726.20" cy="65.60" r="2.00" fill="#fff" stroke="#d048d0" stroke-width="0.5"/>
<circle cx="732.16" cy="64.60" r="2.00" fill="#fff" stroke="#d048d0" stroke-width="0.5"/>
<circle cx="738.12" cy="63.60" r="2.00" fill="#fff" stroke="#d048d0" stroke-width="0.5"/>
<circle cx="744.07" cy="63.00" r="2.00" fill="#fff" stroke="#d048d0" stroke-width="0.5"/>
<circle cx="750.03" cy="62.00" r="2.00" fill="#fff" stroke="#d048d0" stroke-width="0.5"/>
<circle cx="755.99" cy="61.00" r="2.00" fill="#fff" stroke="#d048d0" stroke-width="0.5"/>
<circle cx="761.94" cy="59.90" r="2.00" fill="#fff" stroke="#d048d0" stroke-width="0.5"/>
<circle cx="767.90" cy="59.40" r="2.00" fill="#fff" stroke="#d048d0" stroke-width="0.5"/>
</g>
<text transform="translate(465.20,77.60) scale(1,1.08)" class="an">0.0148 Hz</text>
<line x1="528.20" y1="104.70" x2="509.19" y2="88.08" stroke="#222" stroke-width="0.9"/><polygon points="504.30,83.80 511.59,86.86 508.30,90.62" fill="#000"/>
<text transform="translate(621.90,132.10) scale(1,1.08)" class="an">0.1649 Hz</text>
<line x1="621.40" y1="99.90" x2="640.84" y2="115.61" stroke="#222" stroke-width="0.9"/><polygon points="645.90,119.70 638.50,116.93 641.64,113.04" fill="#000"/>
<text transform="translate(466.00,41.60) scale(1,1.0)" class="pl">b</text>
<polygon points="554.40,193.35 557.20,188.53 551.60,188.53" fill="#129474"/>
<text transform="translate(569.70,194.60) scale(1,1.09)" class="lg">G'</text>
<polygon points="596.00,193.35 598.80,188.53 593.20,188.53" fill="none" stroke="#2f9c7e" stroke-width="0.6"/>
<text transform="translate(611.10,194.60) scale(1,1.09)" class="lg">G''</text>
<text transform="translate(632.50,195.20) scale(1,1.09)" class="lg">P(AM-DAC-AMTU)</text>
<circle cx="554.40" cy="206.20" r="2.30" fill="#e800e8"/>
<text transform="translate(569.70,211.30) scale(1,1.09)" class="lg">G'</text>
<circle cx="596.00" cy="206.40" r="1.70" fill="none" stroke="#e090e0" stroke-width="0.5"/>
<text transform="translate(611.10,211.30) scale(1,1.09)" class="lg">G''</text>
<text transform="translate(632.50,210.80) scale(1,1.09)" class="lg">P(AM-DAC-AMTU)+</text>
<text transform="translate(632.50,226.90) scale(1,1.09)" class="lg">GS-h-PAMAM</text>
</svg></body></html>
